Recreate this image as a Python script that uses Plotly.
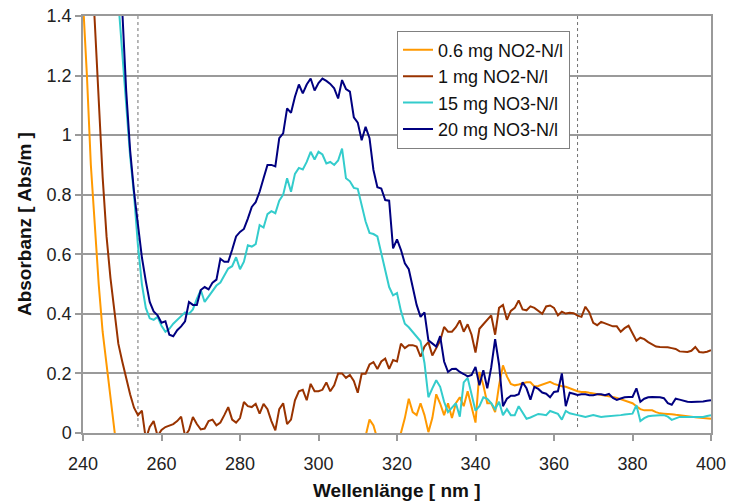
import plotly.graph_objects as go

# ---------------- data ----------------
wavelength_nm = list(range(240, 401))

no2_06 = [
    1.45, 1.2, 0.9, 0.68, 0.5, 0.34, 0.23, 0.12, 0.02, -0.1,          # 240-249
    -0.15, -0.15, -0.15, -0.15, -0.15, -0.15, -0.15, -0.15, -0.15, -0.15,  # 250-259
    -0.15, -0.15, -0.15, -0.15, -0.15, -0.15, -0.15, -0.15, -0.15, -0.15,  # 260-269
    -0.15, -0.15, -0.15, -0.15, -0.15, -0.15, -0.15, -0.15, -0.15, -0.15,  # 270-279
    -0.15, -0.15, -0.15, -0.15, -0.15, -0.15, -0.15, -0.15, -0.15, -0.15,  # 280-289
    -0.15, -0.15, -0.15, -0.15, -0.15, -0.15, -0.15, -0.15, -0.15, -0.15,  # 290-299
    -0.15, -0.15, -0.15, -0.15, -0.15, -0.15, -0.15, -0.12, -0.08, -0.05,  # 300-309
    -0.04, -0.03, -0.01, 0.045, 0.025, -0.02, -0.05, -0.05, -0.03, -0.01,  # 310-319
    -0.02, 0.0, 0.05, 0.115, 0.07, 0.06, 0.1, 0.06, 0.003, 0.05,          # 320-329
    0.13, 0.099, 0.06, 0.1, 0.05, 0.1, 0.12, 0.09, 0.14, 0.088,            # 330-339
    0.035, 0.205, 0.16, 0.1, 0.1, 0.07, 0.16, 0.227, 0.19, 0.165,          # 340-349
    0.16, 0.163, 0.166, 0.17, 0.17, 0.156, 0.158, 0.162, 0.166, 0.172,     # 350-359
    0.165, 0.16, 0.157, 0.155, 0.15, 0.147, 0.14, 0.138, 0.138, 0.135,     # 360-369
    0.133, 0.131, 0.128, 0.127, 0.124, 0.121, 0.118, 0.113, 0.11, 0.105,   # 370-379
    0.1, 0.09, 0.08, 0.076, 0.075, 0.076, 0.07, 0.066, 0.065, 0.065,       # 380-389
    0.063, 0.061, 0.06, 0.058, 0.056, 0.055, 0.053, 0.052, 0.05, 0.049,    # 390-399
    0.048,                                                                  # 400
]

no2_1 = [
    2.2, 1.9, 1.62, 1.38, 1.1, 0.86, 0.66, 0.52, 0.41, 0.3,               # 240-249
    0.24, 0.18, 0.13, 0.085, 0.06, 0.075, -0.02, 0.02, 0.04, -0.01,       # 250-259
    0.01, 0.02, 0.026, 0.03, 0.04, 0.055, -0.01, 0.01, 0.054, 0.03,       # 260-269
    0.012, 0.015, 0.04, 0.045, 0.026, 0.035, 0.06, 0.087, 0.045, 0.035,   # 270-279
    0.05, 0.104, 0.09, 0.087, 0.098, 0.065, 0.098, 0.08, 0.04, 0.009,     # 280-289
    0.08, 0.1, 0.03, 0.045, 0.11, 0.14, 0.145, 0.11, 0.165, 0.14,         # 290-299
    0.14, 0.145, 0.17, 0.14, 0.16, 0.2, 0.2, 0.185, 0.195, 0.175,         # 300-309
    0.135, 0.199, 0.199, 0.23, 0.238, 0.215, 0.24, 0.25, 0.215, 0.245,    # 310-319
    0.24, 0.3, 0.285, 0.295, 0.295, 0.29, 0.256, 0.29, 0.305, 0.26,       # 320-329
    0.285, 0.31, 0.356, 0.34, 0.34, 0.355, 0.378, 0.34, 0.365, 0.33,      # 330-339
    0.27, 0.35, 0.365, 0.38, 0.395, 0.33, 0.42, 0.43, 0.38, 0.41,         # 340-349
    0.42, 0.445, 0.415, 0.412, 0.425, 0.42, 0.41, 0.4, 0.425, 0.428,      # 350-359
    0.42, 0.395, 0.407, 0.401, 0.404, 0.402, 0.394, 0.39, 0.424, 0.405,   # 360-369
    0.37, 0.362, 0.373, 0.368, 0.364, 0.358, 0.358, 0.34, 0.352, 0.36,    # 370-379
    0.335, 0.31, 0.32, 0.315, 0.305, 0.298, 0.29, 0.289, 0.289, 0.288,    # 380-389
    0.285, 0.282, 0.274, 0.272, 0.272, 0.276, 0.289, 0.272, 0.27, 0.273,  # 390-399
    0.278,                                                                 # 400
]

no3_15 = [
    None, None, None, None, None, 2.4, 2.1, 1.85, 1.62, 1.45,             # 240-249
    1.27, 1.08, 0.93, 0.8, 0.63, 0.5, 0.42, 0.385, 0.38, 0.39,            # 250-259
    0.36, 0.34, 0.35, 0.367, 0.38, 0.395, 0.405, 0.4, 0.415, 0.45,        # 260-269
    0.48, 0.44, 0.458, 0.48, 0.495, 0.505, 0.53, 0.552, 0.56, 0.59,       # 270-279
    0.55, 0.575, 0.63, 0.626, 0.634, 0.698, 0.69, 0.735, 0.745, 0.738,    # 280-289
    0.78, 0.8, 0.855, 0.81, 0.87, 0.89, 0.885, 0.91, 0.944, 0.918,        # 290-299
    0.944, 0.935, 0.905, 0.91, 0.9, 0.915, 0.955, 0.855, 0.845, 0.823,    # 300-309
    0.82, 0.765, 0.71, 0.672, 0.668, 0.66, 0.6, 0.55, 0.49, 0.462,        # 310-319
    0.47, 0.41, 0.367, 0.355, 0.338, 0.325, 0.308, 0.235, 0.12, 0.15,     # 320-329
    0.177, 0.155, 0.105, 0.07, 0.085, 0.1, 0.055, 0.17, 0.185, 0.13,      # 330-339
    0.075, 0.09, 0.12, 0.115, 0.1, 0.08, 0.105, 0.06, 0.08, 0.06,         # 340-349
    0.06, 0.09, 0.07, 0.048, 0.052, 0.058, 0.064, 0.062, 0.06, 0.074,     # 350-359
    0.07, 0.064, 0.045, 0.074, 0.066, 0.062, 0.06, 0.057, 0.054, 0.057,   # 360-369
    0.06, 0.057, 0.054, 0.055, 0.056, 0.056, 0.058, 0.06, 0.062, 0.063,   # 370-379
    0.065, 0.093, 0.04, 0.05, 0.056, 0.058, 0.06, 0.06, 0.06, 0.055,      # 380-389
    0.044, 0.05, 0.054, 0.054, 0.054, 0.054, 0.055, 0.054, 0.054, 0.057,  # 390-399
    0.06,                                                                  # 400
]

no3_20 = [
    None, None, None, None, None, 2.5, 2.25, 2.0, 1.78, 1.58,             # 240-249
    1.42, 1.15, 0.95, 0.81, 0.7, 0.59, 0.51, 0.44, 0.408, 0.395,          # 250-259
    0.37, 0.375, 0.33, 0.325, 0.345, 0.358, 0.375, 0.44, 0.43, 0.43,      # 260-269
    0.48, 0.49, 0.482, 0.505, 0.515, 0.585, 0.575, 0.575, 0.615, 0.66,    # 270-279
    0.675, 0.685, 0.72, 0.759, 0.775, 0.81, 0.855, 0.9, 0.9, 0.895,       # 280-289
    0.99, 1.006, 1.09, 1.075, 1.129, 1.17, 1.14, 1.17, 1.19, 1.15,        # 290-299
    1.175, 1.19, 1.182, 1.172, 1.157, 1.123, 1.185, 1.155, 1.146, 1.06,   # 300-309
    1.042, 0.983, 1.028, 0.99, 0.883, 0.825, 0.821, 0.782, 0.78, 0.62,    # 310-319
    0.65, 0.615, 0.57, 0.55, 0.49, 0.43, 0.39, 0.405, 0.311, 0.3,         # 320-329
    0.29, 0.325, 0.24, 0.205, 0.215, 0.216, 0.205, 0.198, 0.19, 0.195,    # 330-339
    0.222, 0.16, 0.211, 0.15, 0.22, 0.315, 0.23, 0.09, 0.115, 0.125,      # 340-349
    0.125, 0.13, 0.17, 0.15, 0.112, 0.155, 0.148, 0.136, 0.132, 0.12,     # 350-359
    0.138, 0.14, 0.2, 0.09, 0.135, 0.132, 0.128, 0.13, 0.13, 0.127,       # 360-369
    0.127, 0.13, 0.13, 0.127, 0.131, 0.118, 0.111, 0.116, 0.12, 0.121,    # 370-379
    0.121, 0.15, 0.105, 0.115, 0.12, 0.121, 0.121, 0.12, 0.117, 0.1,      # 380-389
    0.095, 0.115, 0.112, 0.108, 0.105, 0.104, 0.104, 0.104, 0.106, 0.108, # 390-399
    0.11,                                                                  # 400
]

series_names = ["0.6 mg NO2-N/l", "1 mg NO2-N/l", "15 mg NO3-N/l", "20 mg NO3-N/l"]
series_values = [no2_06, no2_1, no3_15, no3_20]
series_colors = ["#FF9900", "#993300", "#33CCCC", "#000080"]

marker_lines_nm = [254, 366]

x_ticks = [240, 260, 280, 300, 320, 340, 360, 380, 400]
y_ticks = [0, 0.2, 0.4, 0.6, 0.8, 1.0, 1.2, 1.4]
y_tick_text = ["0", "0.2", "0.4", "0.6", "0.8", "1", "1.2", "1.4"]

x_title = "Wellenlänge [ nm ]"
y_title = "Absorbanz [ Abs/m ]"

# ---------------- figure ----------------
FONT = "Arial, 'Liberation Sans', sans-serif"
GRID = "#9a9a9a"

fig = go.Figure()

for nm in marker_lines_nm:
    fig.add_shape(type="line", x0=nm, x1=nm, y0=0.02, y1=1.4, xref="x", yref="y",
                  line=dict(color="#707070", width=1, dash="dot"), layer="below")

for name, vals, col in zip(series_names, series_values, series_colors):
    fig.add_trace(go.Scatter(x=wavelength_nm, y=vals, mode="lines", name=name,
                             line=dict(color=col, width=2), connectgaps=False))

# axis titles placed relative to the plotting area (paper coordinates)
fig.add_annotation(text="<b>" + x_title + "</b>", xref="paper", yref="paper",
                   x=0.5, y=-0.138, xanchor="center", yanchor="middle",
                   showarrow=False, font=dict(size=19, color="#111111"))
fig.add_annotation(text="<b>" + y_title + "</b>", xref="paper", yref="paper",
                   x=-0.093, y=0.5, xanchor="center", yanchor="middle", textangle=-90,
                   showarrow=False, font=dict(size=19, color="#111111"))

fig.update_layout(
    width=729, height=504,
    margin=dict(l=83, r=18, t=16, b=71),
    paper_bgcolor="white", plot_bgcolor="white",
    font=dict(family=FONT, size=18, color="#222222"),
    showlegend=True,
    legend=dict(x=0.5, y=0.965, xanchor="left", yanchor="top",
                bgcolor="white", bordercolor="#808080", borderwidth=1,
                font=dict(family=FONT, size=18, color="#111111"),
                itemwidth=30, tracegroupgap=0),
    xaxis=dict(range=[240, 400], tickvals=x_ticks, showgrid=False, automargin=False,
               showline=True, linecolor=GRID, linewidth=1.5, mirror=True,
               ticks="outside", ticklen=6, tickcolor=GRID, tickwidth=1.5,
               ticklabelstandoff=8,
               tickfont=dict(size=18, color="#222222"),
               zeroline=False),
    yaxis=dict(range=[0, 1.4], tickvals=y_ticks, ticktext=y_tick_text, automargin=False,
               showgrid=True, gridcolor=GRID, gridwidth=1.5,
               showline=True, linecolor=GRID, linewidth=1.5, mirror=True,
               ticks="outside", ticklen=6, tickcolor=GRID, tickwidth=1.5,
               tickfont=dict(size=18, color="#222222"),
               zeroline=False),
)

fig.write_html("out.html")
